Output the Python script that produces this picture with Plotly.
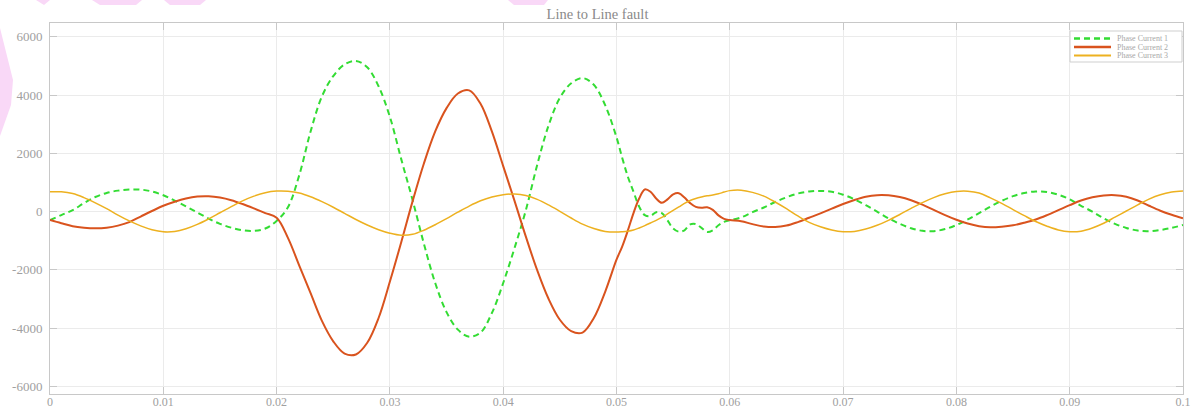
import plotly.graph_objects as go

# ---- Sample times (s): 1 ms steps, 0.5 ms steps through the fault-clearing transient ----
t = [0.000, 0.001, 0.002, 0.003, 0.004, 0.005, 0.006, 0.007, 0.008, 0.009,
     0.010, 0.011, 0.012, 0.013, 0.014, 0.015, 0.016, 0.017, 0.018, 0.019,
     0.020, 0.021, 0.022, 0.023, 0.024, 0.025, 0.026, 0.027, 0.028, 0.029,
     0.030, 0.031, 0.032, 0.033, 0.034, 0.035, 0.036, 0.037, 0.038, 0.039,
     0.040, 0.041, 0.042, 0.043, 0.044, 0.045, 0.046, 0.047, 0.048, 0.049,
     0.050,
     0.0505, 0.0510, 0.0515, 0.0520, 0.0525, 0.0530, 0.0535, 0.0540, 0.0545, 0.0550,
     0.0555, 0.0560, 0.0565, 0.0570, 0.0575, 0.0580, 0.0585, 0.0590, 0.0595, 0.0600,
     0.061, 0.062, 0.063, 0.064, 0.065, 0.066, 0.067, 0.068, 0.069, 0.070,
     0.071, 0.072, 0.073, 0.074, 0.075, 0.076, 0.077, 0.078, 0.079, 0.080,
     0.081, 0.082, 0.083, 0.084, 0.085, 0.086, 0.087, 0.088, 0.089, 0.090,
     0.091, 0.092, 0.093, 0.094, 0.095, 0.096, 0.097, 0.098, 0.099, 0.100]

# ---- Phase currents (A) ----
i_phase1 = [-290, -120, 50, 290, 500, 640, 720, 755, 755, 690,
            560, 380, 180, -30, -240, -420, -550, -640, -660, -580,
            -320, 150, 1250, 2750, 3950, 4650, 5050, 5170, 4950, 4300,
            3250, 1800, 400, -1100, -2450, -3450, -4050, -4290, -4150, -3480,
            -2450, -1250, 50, 1600, 2950, 3900, 4400, 4580, 4350, 3650,
            2550,
            1850, 1200, 680, 170, -120, -150, -20, -50, -300, -580,
            -690, -640, -440, -430, -560, -700, -640, -470, -350, -300,
            -200, -20, 140, 330, 490, 620, 690, 710, 680, 580,
            420, 220, 0, -230, -420, -570, -660, -670, -600, -460,
            -270, -50, 170, 370, 530, 640, 690, 670, 580, 420,
            200, 0, -230, -420, -560, -650, -670, -630, -560, -460]

i_phase2 = [-290, -400, -500, -550, -570, -550, -480, -360, -170, 20,
            200, 340, 450, 515, 525, 480, 390, 260, 110, -50,
            -210, -900, -1850, -2800, -3750, -4450, -4870, -4900, -4500, -3650,
            -2400, -1050, 350, 1650, 2750, 3550, 4050, 4160, 3700, 2750,
            1560, 370, -860, -2010, -2990, -3710, -4100, -4150, -3650, -2750,
            -1650,
            -1200, -650, -50, 450, 760, 680, 450, 300, 420, 590,
            630, 480, 290, 160, 130, 150, 60, -130, -250, -290,
            -330, -430, -510, -530, -480, -360, -210, -60, 100, 260,
            400, 510, 565, 560, 500, 390, 240, 60, -120, -280,
            -410, -500, -540, -520, -470, -380, -270, -120, 50, 220,
            380, 490, 555, 565, 510, 380, 200, 30, -110, -230]

i_phase3 = [680, 680, 620, 480, 300, 100, -120, -320, -490, -620,
            -690, -680, -590, -440, -250, -40, 170, 370, 530, 650,
            705, 700, 640, 510, 340, 150, -60, -270, -460, -620,
            -740, -810, -780, -640, -450, -240, -20, 190, 370, 500,
            580, 600, 550, 420, 230, 10, -220, -430, -580, -680,
            -700,
            -690, -670, -630, -560, -480, -390, -300, -200, -80, 40,
            160, 280, 380, 450, 500, 540, 570, 610, 670, 720,
            735, 660, 530, 330, 100, -150, -370, -520, -630, -690,
            -680, -600, -470, -300, -100, 110, 310, 480, 610, 690,
            700, 640, 470, 280, 70, -140, -340, -500, -630, -690,
            -670, -560, -400, -190, 20, 230, 430, 580, 670, 710]

series_names = ["Phase Current 1", "Phase Current 2", "Phase Current 3"]
x_ticks = [0, 0.01, 0.02, 0.03, 0.04, 0.05, 0.06, 0.07, 0.08, 0.09, 0.1]
x_tick_text = ["0", "0.01", "0.02", "0.03", "0.04", "0.05", "0.06", "0.07", "0.08", "0.09", "0.1"]
y_ticks = [-6000, -4000, -2000, 0, 2000, 4000, 6000]
y_tick_text = ["-6000", "-4000", "-2000", "0", "2000", "4000", "6000"]

C_GREEN = "#33dc33"
C_RED = "#d9531e"
C_ORANGE = "#edb120"
styles = [
    dict(color=C_GREEN, width=2, dash="6px,4px"),
    dict(color=C_RED, width=2, dash="solid"),
    dict(color=C_ORANGE, width=1.5, dash="solid"),
]

W, H = 1195, 412
ML, MR, MT, MB = 50, 12, 23, 18
PW, PH = W - ML - MR, H - MT - MB


def px(x, y):
    """Pixel position on the page -> paper coordinates."""
    return (x - ML) / PW, (H - MB - y) / PH


fig = go.Figure()
for v, name, st in zip([i_phase1, i_phase2, i_phase3], series_names, styles):
    fig.add_trace(go.Scatter(
        x=t, y=v, name=name, mode="lines",
        line=dict(shape="spline", smoothing=1.0, **st),
        showlegend=False,
    ))

FONT = "Liberation Serif, Times New Roman, serif"
shapes = []
annotations = []


def poly(points, color):
    pts = [px(a, b) for a, b in points]
    path = "M " + " L ".join(f"{a:.5f},{b:.5f}" for a, b in pts) + " Z"
    shapes.append(dict(type="path", path=path, xref="paper", yref="paper",
                       fillcolor=color, line=dict(width=0), layer="below"))


# pale pink background decoration
PINK = "#f9d8f7"
poly([(0, 28), (13, 80), (11, 105), (0, 136)], PINK)
poly([(36, 0), (50, 0), (44, 5)], PINK)
poly([(92, 0), (142, 0), (136, 5), (100, 5)], PINK)
poly([(164, 0), (206, 0), (200, 5), (170, 5)], PINK)
poly([(508, 0), (548, 0), (544, 5), (514, 5)], PINK)

# legend box drawn in page pixels
x0, y0 = px(1070, 31)
x1, y1 = px(1182, 62)
shapes.append(dict(type="rect", xref="paper", yref="paper", x0=x0, y0=y1, x1=x1, y1=y0,
                   line=dict(color="#cfcfcf", width=1), fillcolor="white"))
for k, (name, st) in enumerate(zip(series_names, styles)):
    yy = 38.5 + k * 8.5
    a0, b0 = px(1074, yy)
    a1, _ = px(1111, yy)
    shapes.append(dict(type="line", xref="paper", yref="paper", x0=a0, y0=b0, x1=a1, y1=b0,
                       line=dict(color=st["color"], width=st["width"] + 0.5, dash=st["dash"])))
    ta, tb = px(1115, yy)
    annotations.append(dict(text=name, xref="paper", yref="paper", x=ta, y=tb,
                            xanchor="left", yanchor="middle", showarrow=False,
                            font=dict(family=FONT, size=8, color="#a8a8a8")))

axis_common = dict(
    showgrid=True, gridcolor="#ebebeb", gridwidth=1,
    zeroline=False, showline=True, linecolor="#c8c8c8", linewidth=1,
    mirror="ticks", ticks="inside", ticklen=7, tickcolor="#c8c8c8",
    automargin=False,
)

fig.update_layout(
    width=W, height=H,
    margin=dict(l=ML, r=MR, t=MT, b=MB, pad=0, autoexpand=False),
    paper_bgcolor="white", plot_bgcolor="white",
    title=dict(text="Line to Line fault", x=0.5, xanchor="center", y=1 - 14 / H,
               yanchor="middle", font=dict(family=FONT, size=14.5, color="#8a8a8a")),
    font=dict(family=FONT, size=12, color="#9a9a9a"),
    shapes=shapes,
    annotations=annotations,
    xaxis=dict(range=[0, 0.1], tickvals=x_ticks, ticktext=x_tick_text,
               ticklabelstandoff=-3,
               tickfont=dict(family=FONT, size=12, color="#a0a0a0"),
               **axis_common),
    yaxis=dict(range=[-6257, 6470], tickvals=y_ticks, ticktext=y_tick_text,
               ticklabelstandoff=4,
               tickfont=dict(family=FONT, size=13, color="#a0a0a0"),
               **axis_common),
)

fig.write_html("out.html")
